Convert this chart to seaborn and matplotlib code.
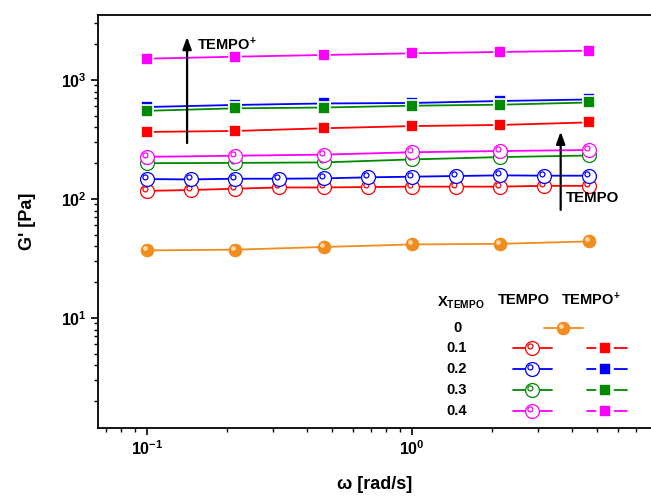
import matplotlib
matplotlib.use("Agg")
import matplotlib.pyplot as plt
import seaborn as sns
from matplotlib.path import Path
from matplotlib.lines import Line2D
from matplotlib.transforms import offset_copy

# ---------------- data ----------------
omega6 = [0.1, 0.215, 0.464, 1.0, 2.15, 4.64]
omega11 = [0.1, 0.147, 0.215, 0.316, 0.464, 0.681, 1.0, 1.47, 2.15, 3.16, 4.64]

g_x0 = [37, 37.5, 39.5, 41.5, 42, 44]                       # X=0
g_tempo_01 = [117, 119, 122, 125, 125, 126, 127, 127, 127, 129, 129]
g_tempo_02 = [147, 146, 148, 148, 149, 152, 154, 156, 158, 157, 157]
g_tempo_03 = [200, 201, 203, 215, 225, 232]
g_tempo_04 = [226, 231, 236, 247, 253, 258]
g_tempop_01 = [366, 373, 393, 410, 419, 440]
g_tempop_02 = [593, 617, 635, 641, 666, 686]
g_tempop_03 = [551, 578, 587, 608, 620, 647]
g_tempop_04 = [1510, 1570, 1622, 1676, 1720, 1763]

legend_rows = ["0", "0.1", "0.2", "0.3", "0.4"]
xtick_vals = [0.1, 1.0]
xtick_labels = [r"$\mathbf{10^{-1}}$", r"$\mathbf{10^{0}}$"]
ytick_vals = [10, 100, 1000]
ytick_labels = [r"$\mathbf{10^{1}}$", r"$\mathbf{10^{2}}$", r"$\mathbf{10^{3}}$"]

ORANGE = "#F28C1E"
RED = "#FF0000"
BLUE = "#0000FF"
GREEN = "#008A00"
MAGENTA = "#FF00FF"

# ---------------- style ----------------
sns.set_style("ticks")
plt.rcParams["font.family"] = ["Liberation Sans", "DejaVu Sans"]
plt.rcParams["font.weight"] = "bold"
plt.rcParams["mathtext.fontset"] = "custom"
plt.rcParams["mathtext.bf"] = "Liberation Sans:bold"
plt.rcParams["mathtext.rm"] = "Liberation Sans:bold"
plt.rcParams["mathtext.it"] = "Liberation Sans:bold:italic"
for k in ["text.color", "axes.labelcolor", "xtick.color", "ytick.color",
          "axes.edgecolor"]:
    plt.rcParams[k] = "black"

fig = plt.figure(figsize=(6.51, 4.97), dpi=100)
ax = fig.add_axes([98 / 651, 69 / 497, 553 / 651, 413 / 497])

# open circle with small inner highlight circle (Origin-like sphere)
ring_marker = Path.make_compound_path(Path.circle((0, 0), 1.0),
                                      Path.circle((-0.3, 0.3), 0.36))

LW = 1.3
RING_MS = 10
SQ_MS = 9.2
ORB_MS = 9


def open_series(x, y, color):
    sns.lineplot(x=x, y=y, color=color, lw=LW, marker=ring_marker,
                 markersize=RING_MS, markerfacecolor="white",
                 markeredgecolor=color, markeredgewidth=0.9, ax=ax,
                 legend=False)


def square_series(x, y, color):
    sns.lineplot(x=x, y=y, color=color, lw=LW, marker="s", markersize=SQ_MS,
                 markerfacecolor=color, markeredgecolor="white",
                 markeredgewidth=1.2, ax=ax, legend=False)


ax.set_xscale("log")
ax.set_yscale("log")

# X = 0 (orange filled spheres)
sns.lineplot(x=omega6, y=g_x0, color=ORANGE, lw=LW, marker="o",
             markersize=ORB_MS, markerfacecolor=ORANGE,
             markeredgecolor=ORANGE, markeredgewidth=0.8, ax=ax, legend=False)
hl = offset_copy(ax.transData, fig=fig, x=-1.4, y=1.4, units="points")
ax.plot(omega6, g_x0, ls="none", marker="o", markersize=3.4,
        markerfacecolor="#FFD9A6", markeredgecolor="none", transform=hl)

open_series(omega11, g_tempo_01, RED)
open_series(omega11, g_tempo_02, BLUE)
open_series(omega6, g_tempo_03, GREEN)
open_series(omega6, g_tempo_04, MAGENTA)

square_series(omega6, g_tempop_01, RED)
square_series(omega6, g_tempop_02, BLUE)
square_series(omega6, g_tempop_03, GREEN)
square_series(omega6, g_tempop_04, MAGENTA)

ax.set_xlim(0.0653, 7.98)
ax.set_ylim(1.19, 3517)

ax.set_xticks(xtick_vals)
ax.set_xticklabels(xtick_labels)
ax.set_yticks(ytick_vals)
ax.set_yticklabels(ytick_labels)
ax.tick_params(axis="both", which="major", direction="out", length=5,
               width=1.2, labelsize=11.5, pad=3, color="black")
ax.tick_params(axis="both", which="minor", direction="out", length=3,
               width=1.0, color="black")
ax.tick_params(top=False, right=False, which="both")

for side in ["left", "bottom", "top"]:
    ax.spines[side].set_linewidth(1.3)
    ax.spines[side].set_color("black")
ax.spines["right"].set_visible(False)

ax.set_xlabel("ω [rad/s]", fontsize=13, fontweight="bold", labelpad=13)
ax.set_ylabel("G' [Pa]", fontsize=13, fontweight="bold", labelpad=18)

# ---------------- arrows & annotations ----------------
arrow_kw = dict(arrowstyle="-|>,head_length=0.6,head_width=0.22", lw=1.6,
                color="black", mutation_scale=12, shrinkA=0, shrinkB=0)
ax.annotate("", xy=(0.1416, 2300), xytext=(0.1416, 295), arrowprops=arrow_kw)
ax.text(0.1545, 1968, r"$\mathbf{TEMPO^{+}}$", fontsize=10.5, ha="left",
        va="center")
ax.annotate("", xy=(3.64, 368), xytext=(3.64, 81), arrowprops=arrow_kw)
ax.text(3.81, 102, "TEMPO", fontsize=10.8, fontweight="bold", ha="left",
        va="center")

# ---------------- custom legend table ----------------
def pa(px, py):
    return ((px - 98) / 553, (428 - py) / 413)


def add_handle(x0, x1, xm, py, color, kind):
    (ax0, ay), (ax1, _) = pa(x0, py), pa(x1, py)
    axm, _ = pa(xm, py)
    ax.add_line(Line2D([ax0, ax1], [ay, ay], transform=ax.transAxes,
                       color=color, lw=LW, clip_on=False))
    if kind == "open":
        ax.add_line(Line2D([axm], [ay], transform=ax.transAxes, ls="none",
                           marker=ring_marker, markersize=RING_MS,
                           markerfacecolor="white", markeredgecolor=color,
                           markeredgewidth=0.9, clip_on=False))
    elif kind == "square":
        ax.add_line(Line2D([axm], [ay], transform=ax.transAxes, ls="none",
                           marker="s", markersize=10.5, markerfacecolor=color,
                           markeredgecolor="white", markeredgewidth=2.6,
                           clip_on=False))
    else:
        ax.add_line(Line2D([axm], [ay], transform=ax.transAxes, ls="none",
                           marker="o", markersize=ORB_MS,
                           markerfacecolor=color, markeredgecolor=color,
                           markeredgewidth=0.8, clip_on=False))
        hl2 = offset_copy(ax.transAxes, fig=fig, x=-1.4, y=1.4, units="points")
        ax.add_line(Line2D([axm], [ay], transform=hl2, ls="none", marker="o",
                           markersize=3.4, markerfacecolor="#FFD9A6",
                           markeredgecolor="none", clip_on=False))


hx, hy = pa(437, 303)
ax.text(hx, hy, r"$\mathbf{X}_{\mathbf{TEMPO}}$", transform=ax.transAxes,
        fontsize=10.5, ha="left", va="center")
tx, ty = pa(524, 300)
ax.text(tx, ty, "TEMPO", transform=ax.transAxes, fontsize=10.5,
        fontweight="bold", ha="center", va="center")
tx, ty = pa(591, 300)
ax.text(tx, ty, r"$\mathbf{TEMPO^{+}}$", transform=ax.transAxes,
        fontsize=10.5, ha="center", va="center")

row_y = [328, 348, 369, 390, 411]
open_colors = [None, RED, BLUE, GREEN, MAGENTA]
for lab, py, col in zip(legend_rows, row_y, open_colors):
    lx, ly = pa(457, py)
    ax.text(lx, ly, lab, transform=ax.transAxes, fontsize=10.5,
            fontweight="bold", ha="center", va="center")
    if col is None:
        add_handle(544, 583, 563, py, ORANGE, "filled")
    else:
        add_handle(513, 552, 532, py, col, "open")
        add_handle(587, 627, 605, py, col, "square")

fig.savefig("out.png", dpi=100, facecolor="white")
